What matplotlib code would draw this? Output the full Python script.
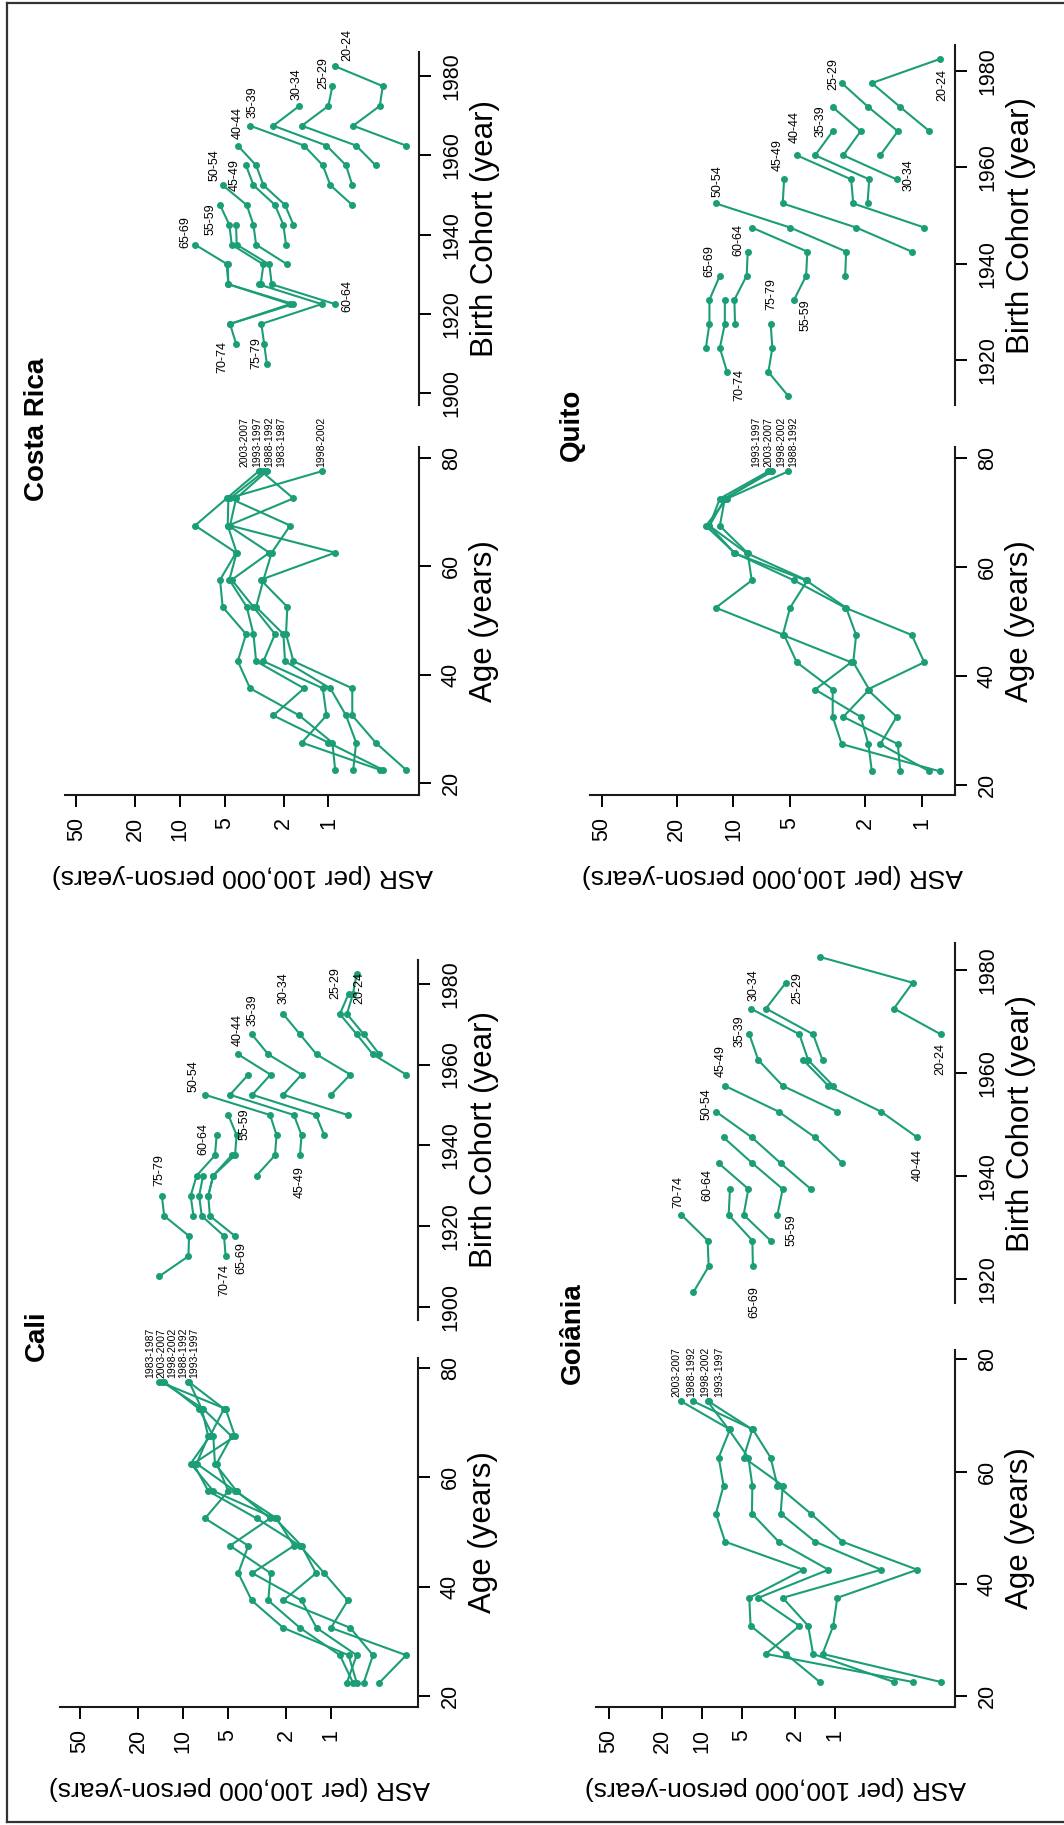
# Age-period and birth-cohort ASR plots for four registries, laid out
# on a portrait page (landscape panels turned a quarter turn).

import numpy as np
import matplotlib.pyplot as plt
from matplotlib.lines import Line2D
from matplotlib.ticker import NullLocator

plt.rcParams['font.family'] = ['Liberation Sans', 'DejaVu Sans']

W, H, DPI = 1064, 1825, 100
PT = 72 / DPI          # points per pixel
GREEN = '#1b9e77'

# DATA ---------------------------------------------------------------

age_groups = ['20-24', '25-29', '30-34', '35-39', '40-44', '45-49',
              '50-54', '55-59', '60-64', '65-69', '70-74', '75-79']
age_mid = [22.5, 27.5, 32.5, 37.5, 42.5, 47.5,
           52.5, 57.5, 62.5, 67.5, 72.5, 77.5]
asr_ticks = [1, 2, 5, 10, 20, 50]

# ASR per 100,000 person-years: one row per age group, one column per period
cali_periods = ['1983-1987', '1988-1992', '1993-1997', '1998-2002', '2003-2007']
cali_mid = [1985, 1990, 1995, 2000, 2005]
cali_asr = [
    [0.47, 0.60, 0.78, 0.71, 0.67],
    [0.31, 0.52, 0.67, 0.87, 0.76],
    [1.00, 0.74, 1.25, 1.62, 2.10],
    [0.77, 2.10, 1.58, 2.65, 3.43],
    [1.11, 1.26, 3.40, 2.56, 4.23],
    [1.62, 1.58, 1.78, 4.81, 3.62],
    [3.18, 2.39, 2.33, 2.58, 7.10],
    [6.75, 6.24, 4.45, 4.34, 4.94],
    [8.50, 8.87, 8.08, 6.08, 5.92],
    [4.45, 6.58, 6.75, 6.24, 4.69],
    [5.15, 5.28, 7.47, 7.78, 7.30],
    [14.5, 9.19, 9.10, 13.4, 13.9],
]

goiania_periods = ['1988-1992', '1993-1997', '1998-2002', '2003-2007']
goiania_mid = [1990, 1995, 2000, 2005]
goiania_asr = [
    [0.16, 0.36, 0.26, 1.30],
    [1.24, 1.46, 3.30, 2.34],
    [1.03, 1.59, 1.85, 4.31],
    [0.96, 2.47, 3.77, 4.41],
    [0.24, 0.45, 1.12, 1.73],
    [0.88, 1.41, 2.65, 6.71],
    [1.52, 2.56, 4.21, 7.85],
    [2.71, 2.47, 4.18, 6.88],
    [3.05, 4.86, 4.48, 7.49],
    [4.14, 4.18, 6.30, 6.16],
    [11.6, 8.91, 9.07, 14.3],
]

costa_rica_periods = ['1983-1987', '1988-1992', '1993-1997', '1998-2002', '2003-2007']
costa_rica_mid = [1985, 1990, 1995, 2000, 2005]
costa_rica_asr = [
    [0.30, 0.68, 0.45, 0.43, 0.90],
    [0.48, 0.65, 1.51, 1.00, 0.94],
    [0.69, 0.76, 1.03, 2.35, 1.57],
    [0.69, 0.97, 1.09, 1.46, 3.37],
    [1.72, 1.96, 2.74, 3.07, 4.08],
    [1.93, 2.01, 2.29, 3.20, 3.59],
    [1.89, 3.07, 3.20, 3.55, 5.16],
    [2.86, 2.74, 4.48, 4.65, 5.37],
    [0.90, 2.41, 2.50, 4.15, 4.19],
    [4.60, 1.81, 4.72, 4.77, 7.92],
    [4.19, 4.60, 1.72, 4.72, 4.85],
    [2.60, 2.71, 2.83, 1.11, 2.95],
]

quito_periods = ['1988-1992', '1993-1997', '1998-2002', '2003-2007']
quito_mid = [1990, 1995, 2000, 2005]
quito_asr = [
    [0.91, 1.30, 1.84, 0.80],
    [1.66, 1.34, 1.92, 2.66],
    [1.36, 2.61, 2.11, 2.97],
    [1.94, 1.90, 3.68, 2.97],
    [0.97, 2.31, 2.37, 4.61],
    [1.13, 2.23, 5.47, 5.38],
    [2.55, 2.52, 5.00, 12.4],
    [4.76, 4.11, 4.05, 7.99],
    [9.80, 9.88, 8.50, 8.39],
    [14.0, 13.4, 13.4, 11.8],
    [10.8, 11.8, 11.1, 11.1],
    [5.11, 6.52, 6.21, 6.34],
]

# LAYOUT (page pixels) -------------------------------------------------

cali_geo = dict(x0=60, x1=418, asr_lim=(67.8, 0.258),
                age_top=1358, age_bottom=1707, age_lim=(18.04, 81.8),
                coh_top=960, coh_bottom=1320, coh_lim=(1896.7, 1985.9),
                coh_ticks=[1900, 1920, 1940, 1960, 1980], title_xy=(37, 1336), gap=11)
goiania_geo = dict(x0=596, x1=955, asr_lim=(62.7, 0.125),
                   age_top=1350, age_bottom=1707, age_lim=(18.04, 81.66),
                   coh_top=943, coh_bottom=1303, coh_lim=(1915.4, 1985.2),
                   coh_ticks=[1920, 1940, 1960, 1980], title_xy=(573, 1333), gap=14)
costa_rica_geo = dict(x0=65, x1=419, asr_lim=(59.6, 0.245),
                      age_top=447, age_bottom=795, age_lim=(17.85, 81.97),
                      coh_top=52, coh_bottom=405, coh_lim=(1897.05, 1986.1),
                      coh_ticks=[1900, 1920, 1940, 1960, 1980], title_xy=(37, 429), gap=12)
quito_geo = dict(x0=590, x1=955, asr_lim=(57.7, 0.666),
                 age_top=447, age_bottom=795, age_lim=(18.17, 81.96),
                 coh_top=45, coh_bottom=405, coh_lim=(1910.65, 1985.4),
                 coh_ticks=[1920, 1940, 1960, 1980], title_xy=(572, 425), gap=12.5)

# age-group label placement: which end of the cohort line, offset in px (right, up)
cali_coh_labels = {
    '20-24': ('top', 3, -14), '25-29': ('top', -13, 11), '30-34': ('top', 0, 26),
    '35-39': ('top', 1, 24), '40-44': ('top', -1, 24), '45-49': ('bottom', 0, -27),
    '50-54': ('top', -11, 19), '55-59': ('top', 16, -9), '60-64': ('top', -13, -4),
    '65-69': ('bottom', 6, -22), '70-74': ('bottom', -1, -24), '75-79': ('top', -2, 26),
}
goiania_coh_labels = {
    '20-24': ('bottom', 0, -25), '25-29': ('top', 11, -5), '30-34': ('top', 3, 23),
    '35-39': ('top', -10, 3), '40-44': ('bottom', 0, -28), '45-49': ('top', -4, 25),
    '50-54': ('top', -9, 8), '55-59': ('bottom', 14, -15), '60-64': ('top', -11, -22),
    '65-69': ('bottom', 1, -36), '70-74': ('top', -3, 23),
}
costa_rica_coh_labels = {
    '20-24': ('top', 12, 21), '25-29': ('top', -9, 13), '30-34': ('top', -3, 22),
    '35-39': ('top', 2, 24), '40-44': ('top', 0, 23), '45-49': ('top', -11, -10),
    '50-54': ('top', -8, 20), '55-59': ('top', -10, -14), '60-64': ('bottom', 12, 8),
    '65-69': ('top', -10, 13), '70-74': ('bottom', -14, -13), '75-79': ('bottom', -10, 11),
}
quito_coh_labels = {
    '20-24': ('top', 2, -26), '25-29': ('top', -8, 9), '30-34': ('bottom', 12, 4),
    '35-39': ('top', -12, 10), '40-44': ('top', -2, 28), '45-49': ('top', -6, 24),
    '50-54': ('top', 2, 22), '55-59': ('bottom', 11, -15), '60-64': ('top', -9, 12),
    '65-69': ('top', -10, 15), '70-74': ('bottom', 12, -13), '75-79': ('top', 1, 30),
}

fig = plt.figure(figsize=(W / DPI, H / DPI), dpi=DPI)


def rect(left, top, right, bottom):
    return [left / W, 1 - bottom / H, (right - left) / W, (bottom - top) / H]


def ftext(x, y, s, **kw):
    fig.text(x / W, 1 - y / H, s, **kw)


def spread(xs, gap):
    # push sorted label positions apart until neighbours are at least `gap` apart
    order = np.argsort(xs)
    pos = np.asarray(xs, float)[order]
    for _ in range(300):
        moved = False
        for k in range(len(pos) - 1):
            d = pos[k + 1] - pos[k]
            if d < gap - 1e-6:
                s = (gap - d) / 2
                pos[k] -= s
                pos[k + 1] += s
                moved = True
        if not moved:
            break
    out = np.empty_like(pos)
    out[order] = pos
    return out


def draw_registry(name, periods, mids, asr, geo, coh_labels):
    asr = np.asarray(asr, float)
    ages = np.asarray(age_mid[:asr.shape[0]])
    mids = np.asarray(mids, float)

    ax_age = fig.add_axes(rect(geo['x0'], geo['age_top'], geo['x1'], geo['age_bottom']))
    ax_coh = fig.add_axes(rect(geo['x0'], geo['coh_top'], geo['x1'], geo['coh_bottom']))

    for ax in (ax_age, ax_coh):
        ax.set_xscale('log')
        ax.set_xlim(*geo['asr_lim'])
        ax.patch.set_alpha(0)
        ax.spines['top'].set_visible(False)
        ax.spines['left'].set_visible(False)
        for s in ('right', 'bottom'):
            ax.spines[s].set_linewidth(1.5)
            ax.spines[s].set_color('#1a1a1a')
        ax.yaxis.tick_right()
        ax.tick_params(axis='y', direction='out', length=8.4, width=1.4,
                       labelsize=15.5, labelrotation=90, pad=7.4)
        ax.xaxis.set_minor_locator(NullLocator())

    ax_age.set_ylim(*geo['age_lim'])
    ax_age.set_yticks([20, 40, 60, 80])
    ax_age.set_xticks(asr_ticks)
    ax_age.set_xticklabels([str(t) for t in asr_ticks])
    ax_age.xaxis.set_minor_locator(NullLocator())
    ax_age.tick_params(axis='x', direction='out', length=8.4, width=1.4,
                       labelsize=15.5, labelrotation=90, pad=7.2)

    ax_coh.set_ylim(*geo['coh_lim'])
    ax_coh.set_yticks(geo['coh_ticks'])
    ax_coh.spines['bottom'].set_visible(False)
    ax_coh.tick_params(axis='x', which='both', bottom=False, labelbottom=False)

    for ax in (ax_age, ax_coh):
        for lbl in ax.get_yticklabels():
            lbl.set_va('center')

    style = dict(color=GREEN, lw=1.5, marker='o', ms=4, clip_on=False)

    # age curves, one per calendar period
    for j in range(len(periods)):
        ax_age.plot(asr[:, j], ages, **style)

    # cohort curves, one per age group
    for i in range(len(ages)):
        ax_coh.plot(asr[i], mids - ages[i], **style)

    # period names at the oldest age, spread so they do not overlap
    ends = asr[-1]
    xs = [ax_age.transData.transform((v, ages[-1]))[0] for v in ends]
    new = spread(xs, geo['gap'])
    for j, p in enumerate(periods):
        ax_age.annotate(p, xy=(ends[j], ages[-1]),
                        xytext=((new[j] - xs[j]) * PT, 4 * PT),
                        textcoords='offset points', rotation=90,
                        ha='center', va='bottom', fontsize=7.5,
                        annotation_clip=False)

    # age-group names on the cohort curves
    for i, g in enumerate(age_groups[:len(ages)]):
        end, dx, dy = coh_labels[g]
        k = -1 if end == 'top' else 0
        ax_coh.annotate(g, xy=(asr[i, k], mids[k] - ages[i]),
                        xytext=(dx * PT, dy * PT), textcoords='offset points',
                        rotation=90, ha='center', va='center', fontsize=9,
                        annotation_clip=False)

    # axis titles and panel name
    ftext(geo['x1'] + 65, (geo['age_top'] + geo['age_bottom']) / 2, 'Age (years)',
          rotation=90, ha='center', va='center', fontsize=22.5)
    ftext(geo['x1'] + 66, (geo['coh_top'] + geo['coh_bottom']) / 2, 'Birth Cohort (year)',
          rotation=90, ha='center', va='center', fontsize=22.5)
    ftext((geo['x0'] + geo['x1']) / 2, geo['age_bottom'] + 81,
          'ASR (per 100,000 person-years)',
          rotation=180, ha='center', va='center', fontsize=19)
    ftext(geo['title_xy'][0], geo['title_xy'][1], name, rotation=90,
          ha='center', va='center', fontsize=20, fontweight='bold')


draw_registry('Costa Rica', costa_rica_periods, costa_rica_mid, costa_rica_asr,
              costa_rica_geo, costa_rica_coh_labels)
draw_registry('Quito', quito_periods, quito_mid, quito_asr, quito_geo, quito_coh_labels)
draw_registry('Cali', cali_periods, cali_mid, cali_asr, cali_geo, cali_coh_labels)
draw_registry('Goiânia', goiania_periods, goiania_mid, goiania_asr, goiania_geo,
              goiania_coh_labels)

# page frame (open on the right)
frame = dict(color='#333333', lw=1.6, transform=fig.transFigure)
fig.add_artist(Line2D([7 / W, 7 / W], [1 - 3 / H, 1 - 1822 / H], **frame))
fig.add_artist(Line2D([7 / W, 1], [1 - 3 / H, 1 - 3 / H], **frame))
fig.add_artist(Line2D([7 / W, 1], [1 - 1822 / H, 1 - 1822 / H], **frame))

fig.savefig('out.png', dpi=DPI)
